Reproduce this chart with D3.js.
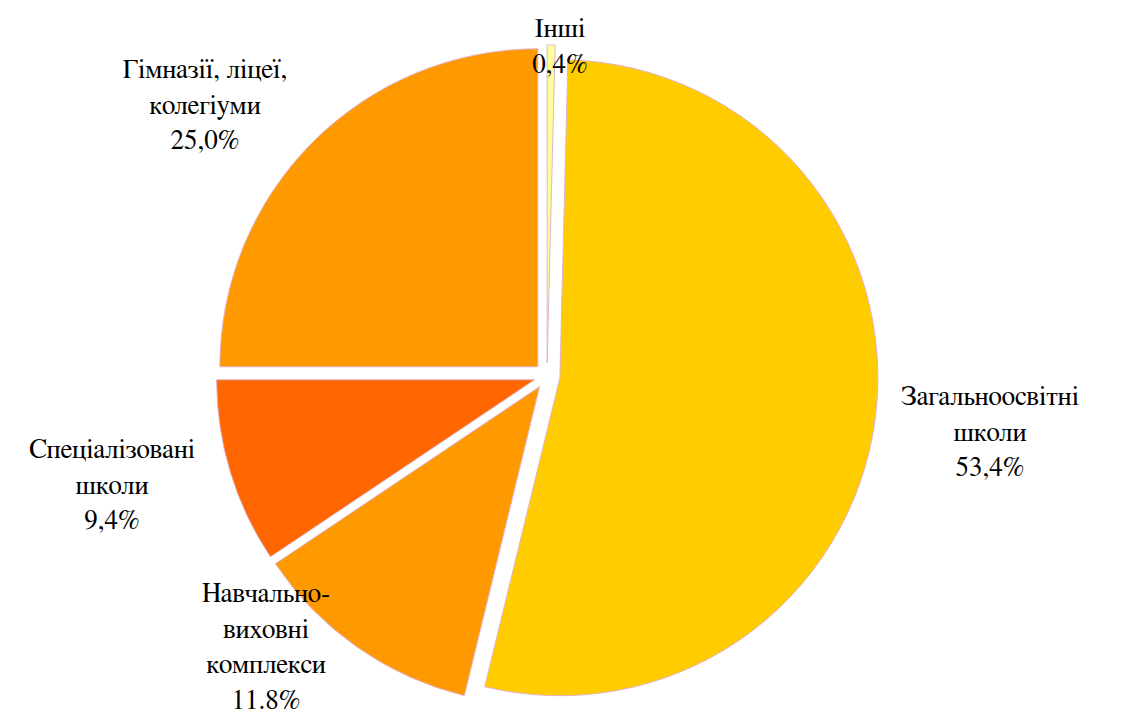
<!DOCTYPE html>
<html>
<head>
<meta charset="utf-8">
<script src="https://cdn.jsdelivr.net/npm/d3@7/dist/d3.min.js"></script>
<style>
  body { margin: 0; background: #fff; }
</style>
</head>
<body>
<div class="vis-holder"></div>
<script>
// categories, in drawing order starting at 12 o'clock
var categories = ["Інші", "Загальноосвітні школи", "Навчально-виховні комплекси", "Спеціалізовані школи", "Гімназії, ліцеї, колегіуми"];
// share of each category, percent
var shares = [0.4, 53.4, 11.8, 9.4, 25.0];
// label lines as they are wrapped in the chart
var labelLines = [
  ["Інші"],
  ["Загальноосвітні", "школи"],
  ["Навчально-", "виховні", "комплекси"],
  ["Спеціалізовані", "школи"],
  ["Гімназії, ліцеї,", "колегіуми"]
];
var sliceColors = ["#FFFF99", "#FFCC00", "#FF9900", "#FF6600", "#FF9900"];

// svg size
var width = 1122;
var height = 713;
// pie centre and radius
var cx = 547, cy = 376;
var radius = 318;
// how far every slice is pulled out from the centre
var explode = 13;
// label block centres (first line baseline) placed like the original
var labelPos = [[560, 37], [990, 405], [266, 602], [112, 458], [205, 78]];
var lineHeight = 35.5;

var svg = d3.select(".vis-holder")
            .append("svg")
            .attr("width", width)
            .attr("height", height);

var pie = d3.pie().sort(null).value(function(d) { return d; });
var arc = d3.arc().innerRadius(0).outerRadius(radius);
var arcs = pie(shares);

var g = svg.append("g").attr("transform", "translate(" + cx + "," + cy + ")");

g.selectAll("path")
 .data(arcs)
 .enter()
 .append("path")
 .attr("d", arc)
 .attr("fill", function(d, i) { return sliceColors[i]; })
 .attr("stroke", "#e2b4cc")
 .attr("stroke-width", 1)
 .attr("transform", function(d) {
   var mid = (d.startAngle + d.endAngle) / 2;
   return "translate(" + (Math.sin(mid) * explode) + "," + (-Math.cos(mid) * explode) + ")";
 });

// labels: name lines then percentage
var fmt = function(v) { return v.toFixed(1).replace(".", ","); };
arcs.forEach(function(d, i) {
  var lines = labelLines[i].slice();
  lines.push(i == 2 ? d.data.toFixed(1) + "%" : fmt(d.data) + "%");
  var t = svg.append("text")
             .attr("x", labelPos[i][0])
             .attr("y", labelPos[i][1])
             .attr("text-anchor", "middle")
             .style("font-family", "'FreeSerif', 'Tinos', serif")
             .style("font-size", "27px")
             .attr("fill", "#000");
  lines.forEach(function(s, j) {
    t.append("tspan")
     .attr("x", labelPos[i][0])
     .attr("dy", j == 0 ? 0 : lineHeight)
     .text(s);
  });
});
</script>
</body>
</html>
